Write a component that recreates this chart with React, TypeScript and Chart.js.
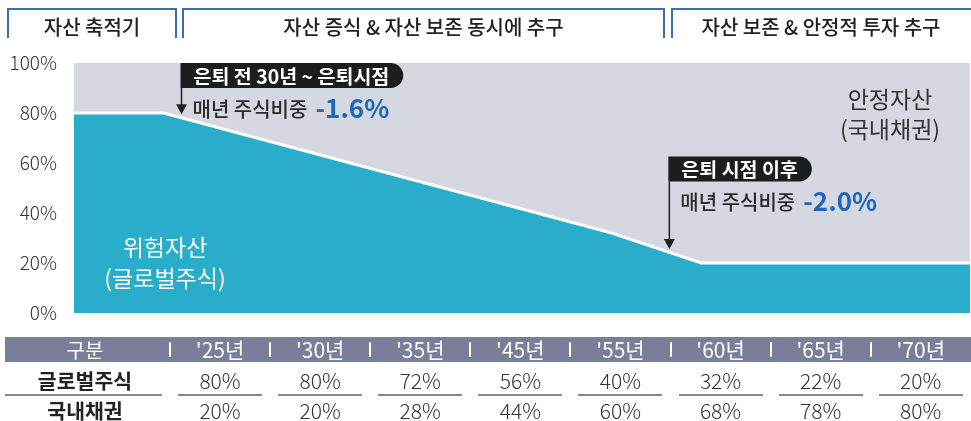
import React, { useEffect, useRef } from "react";
import { Chart, registerables } from "chart.js";

Chart.register(...registerables);

// ---- data ----
const phaseLabels = ["자산 축적기", "자산 증식 & 자산 보존 동시에 추구", "자산 보존 & 안정적 투자 추구"];
const tableYears = ["'25년", "'30년", "'35년", "'45년", "'55년", "'60년", "'65년", "'70년"];
const equityShares = [80, 80, 72, 56, 40, 32, 22, 20];
const bondShares = [20, 20, 28, 44, 60, 68, 78, 80];
const rowLabels = ["글로벌주식", "국내채권"];
const pathYears = [2025, 2029.5, 2052, 2056.5, 2070];
const pathEquity = [80, 80, 32, 20, 20];
const yTicks = [0, 20, 40, 60, 80, 100];
const noteYears = [2030.4, 2054.9];
const noteTops = [100, 62.6];
const noteTips = [79.5, 25.6];
const noteTitles = ["은퇴 전 30년 ~ 은퇴시점", "은퇴 시점 이후"];
const noteTexts = ["매년 주식비중", "매년 주식비중"];
const noteValues = ["-1.6%", "-2.0%"];

const FONT = '"Noto Sans CJK KR", "Noto Sans", sans-serif';
const BLUE = "#2aadca";
const GRAY = "#d5d8e1";

const bgPlugin = {
  id: "plotBg",
  beforeDatasetsDraw(chart: any) {
    const { ctx, chartArea } = chart;
    ctx.save();
    ctx.fillStyle = GRAY;
    ctx.fillRect(chartArea.left, chartArea.top, chartArea.right - chartArea.left, chartArea.bottom - chartArea.top);
    ctx.restore();
  },
};

const notePlugin = {
  id: "notes",
  afterDatasetsDraw(chart: any) {
    const { ctx, scales } = chart;
    const xs = scales.x;
    const ys = scales.y;
    noteYears.forEach((yr, i) => {
      const ax = xs.getPixelForValue(yr);
      const top = ys.getPixelForValue(noteTops[i]);
      const tip = ys.getPixelForValue(noteTips[i]);
      ctx.save();
      ctx.font = `bold 19.5px ${FONT}`;
      const tw = ctx.measureText(noteTitles[i]).width;
      const bh = 25;
      const bx = ax - 1;
      const bw = tw + 13 + 14;
      ctx.fillStyle = "#1d1d1f";
      ctx.beginPath();
      ctx.moveTo(bx, top);
      ctx.lineTo(bx + bw - bh / 2, top);
      ctx.arc(bx + bw - bh / 2, top + bh / 2, bh / 2, -Math.PI / 2, Math.PI / 2);
      ctx.lineTo(bx, top + bh);
      ctx.closePath();
      ctx.fill();
      ctx.fillStyle = "#ffffff";
      ctx.textBaseline = "middle";
      ctx.textAlign = "left";
      ctx.fillText(noteTitles[i], bx + 13, top + bh / 2 + 1);
      // arrow
      ctx.strokeStyle = "#222";
      ctx.lineWidth = 1.5;
      ctx.beginPath();
      ctx.moveTo(ax, top + bh);
      ctx.lineTo(ax, tip - 8);
      ctx.stroke();
      ctx.fillStyle = "#222";
      ctx.beginPath();
      ctx.moveTo(ax - 5.5, tip - 10);
      ctx.lineTo(ax + 5.5, tip - 10);
      ctx.lineTo(ax, tip);
      ctx.closePath();
      ctx.fill();
      // second line
      ctx.font = `500 20px ${FONT}`;
      ctx.fillStyle = "#2a2a2a";
      ctx.fillText(noteTexts[i], bx + 12, top + 46);
      const w2 = ctx.measureText(noteTexts[i]).width;
      ctx.font = `bold 26px ${FONT}`;
      ctx.fillStyle = "#1f68b9";
      ctx.fillText(noteValues[i], bx + 12 + w2 + 8, top + 45);
      ctx.restore();
    });
  },
};

function GlideChart() {
  const ref = useRef<HTMLCanvasElement | null>(null);
  useEffect(() => {
    if (!ref.current) return;
    const chart = new Chart(ref.current, {
      type: "line",
      data: {
        datasets: [
          {
            label: "글로벌주식",
            data: pathYears.map((x, i) => ({ x, y: pathEquity[i] })),
            fill: "origin",
            backgroundColor: BLUE,
            borderColor: "#ffffff",
            borderWidth: 3,
            pointRadius: 0,
            tension: 0,
          },
        ],
      },
      options: {
        animation: false,
        responsive: false,
        layout: { padding: { top: 63, bottom: 108, left: 0, right: 1 } },
        plugins: { legend: { display: false }, tooltip: { enabled: false } },
        scales: {
          x: { type: "linear", min: pathYears[0], max: pathYears[pathYears.length - 1], display: false },
          y: {
            min: 0,
            max: 100,
            afterFit: (s: any) => {
              s.width = 74;
            },
            afterBuildTicks: (s: any) => {
              s.ticks = yTicks.map((v) => ({ value: v }));
            },
            grid: { display: false, drawTicks: false },
            border: { display: false },
            ticks: {
              padding: 17,
              color: "#333",
              font: { family: FONT, size: 19, weight: "300" as any },
              callback: (v: any) => `${v}%`,
            },
          },
        },
      } as any,
      plugins: [bgPlugin, notePlugin],
    });
    return () => chart.destroy();
  }, []);
  return <canvas ref={ref} width={971} height={421} style={{ position: "absolute", left: 0, top: 0, width: 971, height: 421 }} />;
}

const phaseBoxes = [
  { left: 7, width: 170 },
  { left: 182, width: 483 },
  { left: 671, width: 310 },
];

export default function App() {
  useEffect(() => {
    document.body.style.margin = "0";
  }, []);
  const colW = 100.1;
  const labelW = 170;
  return (
    <div style={{ position: "absolute", left: 0, top: 0, width: 971, height: 421, overflow: "hidden", background: "#fff", fontFamily: FONT }}>
      <GlideChart />
      {/* phase header */}
      {phaseLabels.map((p, i) => (
        <div
          key={p}
          style={{
            position: "absolute",
            left: phaseBoxes[i].left,
            top: 8,
            width: phaseBoxes[i].width,
            height: 30,
            boxSizing: "border-box",
            borderTop: "2px solid #3a6db5",
            borderLeft: "2px solid #3a6db5",
            borderRight: "2px solid #3a6db5",
            textAlign: "center",
            fontSize: 20,
            fontWeight: 500,
            color: "#222",
            lineHeight: "34px",
            paddingRight: i === 2 ? 10 : 0,
            whiteSpace: "nowrap",
          }}
        >
          {p}
        </div>
      ))}
      {/* area labels */}
      <div style={{ position: "absolute", left: 790, top: 83, width: 200, textAlign: "center", fontSize: 23, color: "#333", lineHeight: "30px" }}>
        안정자산
        <br />
        (국내채권)
      </div>
      <div style={{ position: "absolute", left: 65, top: 231, width: 200, textAlign: "center", fontSize: 23, color: "#fff", lineHeight: "31px" }}>
        위험자산
        <br />
        (글로벌주식)
      </div>
      {/* table header */}
      <div style={{ position: "absolute", left: 5, top: 337, width: 966, height: 25, background: "#7a7f99" }} />
      <div style={{ position: "absolute", left: 0, top: 337, width: labelW, height: 25, lineHeight: "25px", textAlign: "center", color: "#fff", fontSize: 20 }}>구분</div>
      {tableYears.map((y, i) => (
        <React.Fragment key={y}>
          <div
            style={{
              position: "absolute",
              left: labelW + i * colW,
              top: 337,
              width: colW,
              height: 25,
              lineHeight: "25px",
              textAlign: "center",
              color: "#fff",
              fontSize: 21,
            }}
          >
            {y}
          </div>
          <div style={{ position: "absolute", left: labelW + i * colW - 1, top: 342, width: 2, height: 15, background: "#fff" }} />
        </React.Fragment>
      ))}
      {/* rows */}
      {rowLabels.map((r, ri) => (
        <div
          key={r}
          style={{ position: "absolute", left: 0, top: 366 + ri * 30, width: labelW, height: 28, lineHeight: "28px", textAlign: "center", color: "#222", fontSize: 20.5, fontWeight: 700 }}
        >
          {r}
        </div>
      ))}
      <div style={{ position: "absolute", left: 5, top: 394, width: 157, height: 2, background: "#8a8a8a" }} />
      {tableYears.map((y, i) => (
        <React.Fragment key={"r" + y}>
          <div
            style={{ position: "absolute", left: labelW + i * colW, top: 366, width: colW, height: 28, lineHeight: "28px", textAlign: "center", color: "#333", fontSize: 21, fontWeight: 300 }}
          >
            {equityShares[i]}%
          </div>
          <div style={{ position: "absolute", left: labelW + i * colW + 8, top: 394, width: colW - 16, height: 2, background: "#8a8a8a" }} />
          <div
            style={{ position: "absolute", left: labelW + i * colW, top: 396, width: colW, height: 28, lineHeight: "28px", textAlign: "center", color: "#333", fontSize: 21, fontWeight: 300 }}
          >
            {bondShares[i]}%
          </div>
        </React.Fragment>
      ))}
    </div>
  );
}
